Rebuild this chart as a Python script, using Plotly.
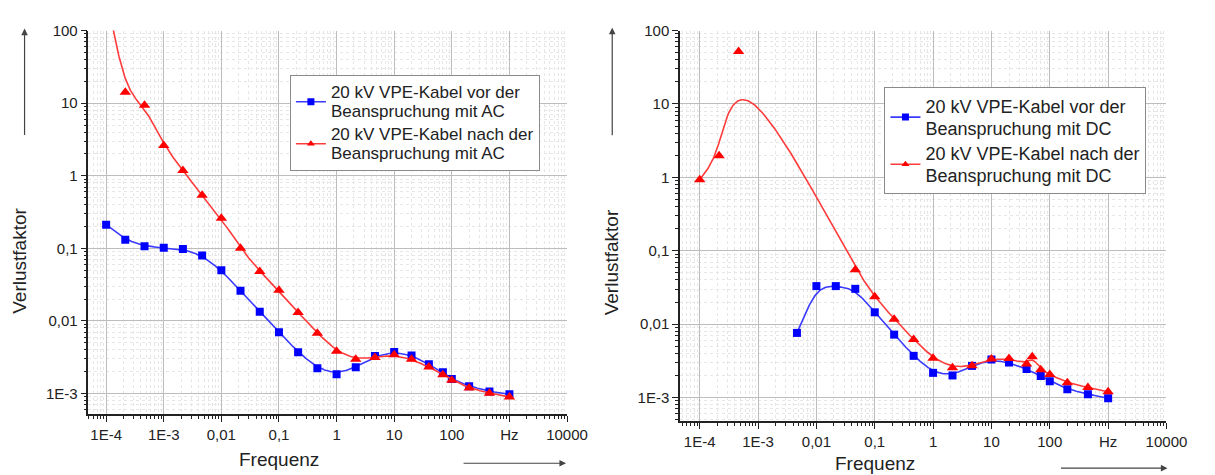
import numpy as np
import plotly.graph_objects as go

# --- Data: loss factor vs. frequency, 20 kV XLPE cable ---
# AC stress (left panel)
f_ac_vor = [1e-4, 2.15e-4, 4.64e-4, 1e-3, 2.15e-3, 4.64e-3, 0.01, 0.0215, 0.0464, 0.1,
            0.215, 0.464, 1, 2.15, 4.64, 10, 20, 40, 70, 100, 200, 450, 1000]
tan_ac_vor = [0.212, 0.131, 0.107, 0.102, 0.098, 0.080, 0.050, 0.026, 0.0134, 0.0070,
              0.00371, 0.00224, 0.00184, 0.00231, 0.00328, 0.00375, 0.00335, 0.00254,
              0.00196, 0.00159, 0.00126, 0.00107, 0.00098]
f_ac_nach = [1e-4, 2.15e-4, 4.64e-4, 1e-3, 2.15e-3, 4.64e-3, 0.01, 0.0215, 0.0464, 0.1,
             0.215, 0.464, 1, 2.15, 4.64, 10, 20, 40, 70, 100, 200, 450, 1000]
tan_ac_nach = [300, 14.1, 9.4, 2.62, 1.18, 0.54, 0.26, 0.100, 0.048, 0.0264,
               0.0131, 0.00676, 0.00383, 0.00296, 0.00315, 0.00342, 0.00296, 0.00233,
               0.00182, 0.00153, 0.00119, 0.00101, 0.00090]

# DC stress (right panel)
f_dc_vor = [4.64e-3, 0.01, 0.0215, 0.0464, 0.1, 0.215, 0.464, 1, 2.15, 4.64, 10, 20,
            40, 70, 100, 200, 450, 1000]
tan_dc_vor = [0.0076, 0.033, 0.033, 0.0303, 0.0145, 0.0072, 0.0037, 0.00217, 0.0020,
              0.0027, 0.0033, 0.0030, 0.00245, 0.00197, 0.00167, 0.0013, 0.00111, 0.00098]
f_dc_nach = [1e-4, 2.15e-4, 4.64e-4, 0.0464, 0.1, 0.215, 0.464, 1, 2.15, 4.64, 10, 20,
             40, 50, 70, 100, 200, 450, 1000]
tan_dc_nach = [0.93, 1.97, 52, 0.055, 0.0237, 0.0117, 0.0062, 0.00344, 0.00255, 0.00271,
               0.00334, 0.0034, 0.00286, 0.00359, 0.0024, 0.00206, 0.00159, 0.00137, 0.0012]

x_tickvals = [1e-4, 1e-3, 1e-2, 1e-1, 1, 10, 100, 1000, 10000]
x_ticktext = ["1E-4", "1E-3", "0,01", "0,1", "1", "10", "100", "Hz", "10000"]
y_tickvals = [1e-3, 1e-2, 1e-1, 1, 10, 100]
y_ticktext = ["1E-3", "0,01", "0,1", "1", "10", "100"]

names_ac = ["20 kV VPE-Kabel vor der<br>Beanspruchung mit AC",
            "20 kV VPE-Kabel nach der<br>Beanspruchung mit AC"]
names_dc = ["20 kV VPE-Kabel vor der<br>Beanspruchung mit DC",
            "20 kV VPE-Kabel nach der<br>Beanspruchung mit DC"]

BLUE_M, BLUE_L = "#0000ff", "#3a3aff"
RED_M, RED_L = "#ff0000", "#ff3b3b"
FONT = "Arial, Liberation Sans, sans-serif"


def bspline(x, y, n=40):
    """Uniform cubic B-spline through log-log control points (ends pinned)."""
    P = np.column_stack([np.log10(x), np.log10(y)])
    P = np.vstack([2 * P[0] - P[1], P, 2 * P[-1] - P[-2]])
    t = np.linspace(0, 1, n, endpoint=False)[:, None]
    b0 = (1 - t) ** 3 / 6
    b1 = (3 * t ** 3 - 6 * t ** 2 + 4) / 6
    b2 = (-3 * t ** 3 + 3 * t ** 2 + 3 * t + 1) / 6
    b3 = t ** 3 / 6
    pts = [b0 * P[i] + b1 * P[i + 1] + b2 * P[i + 2] + b3 * P[i + 3]
           for i in range(len(P) - 3)]
    pts.append(P[-2][None, :])
    c = np.vstack(pts)
    return 10 ** c[:, 0], 10 ** c[:, 1]


def legend_label(text, px):
    lines = text.split("<br>")
    return "<br>".join(f'<span style="font-size:{px}px">{s}</span>' for s in lines)


fig = go.Figure()


def add_series(f, v, name, xa, ya, leg, lcol, mcol, symbol, msize):
    cx, cy = bspline(f, v)
    fig.add_trace(go.Scatter(x=cx, y=cy, mode="lines", xaxis=xa, yaxis=ya,
                             line=dict(color=lcol, width=1.6), showlegend=False,
                             hoverinfo="skip"))
    fig.add_trace(go.Scatter(x=f, y=v, mode="markers", xaxis=xa, yaxis=ya,
                             marker=dict(color=mcol, symbol=symbol, size=msize),
                             showlegend=False, cliponaxis=True))
    # legend entry: line with marker
    fig.add_trace(go.Scatter(x=[None], y=[None], mode="lines+markers", name=name,
                             xaxis=xa, yaxis=ya, legend=leg,
                             line=dict(color=lcol, width=1.6),
                             marker=dict(color=mcol, symbol=symbol, size=7)))


add_series(f_ac_vor, tan_ac_vor, legend_label(names_ac[0], 17), "x", "y", "legend",
           BLUE_L, BLUE_M, "square", 8)
add_series(f_ac_nach, tan_ac_nach, legend_label(names_ac[1], 17), "x", "y", "legend",
           RED_L, RED_M, "triangle-up", 10)
add_series(f_dc_vor, tan_dc_vor, legend_label(names_dc[0], 18), "x2", "y2", "legend2",
           BLUE_L, BLUE_M, "square", 8)
add_series(f_dc_nach, tan_dc_nach, legend_label(names_dc[1], 18), "x2", "y2", "legend2",
           RED_L, RED_M, "triangle-up", 10)

minor_vals = [m * 10.0 ** e for e in range(-5, 5) for m in range(2, 10)]

axis_common = dict(
    type="log", showline=True, linecolor="#222", linewidth=1.5, mirror=False,
    ticks="outside", ticklen=6, tickwidth=1.2, tickcolor="#222",
    showgrid=True, gridcolor="#bdbdbd", gridwidth=1, zeroline=False,
    tickfont=dict(family=FONT, size=15, color="#222"),
    minor=dict(tickmode="array", tickvals=minor_vals, ticks="outside", ticklen=3,
               tickwidth=1, tickcolor="#222", showgrid=True, gridcolor="#e6e6e6",
               griddash="dot", gridwidth=1),
)

W, H = 1215, 475
fig.update_layout(
    width=W, height=H, autosize=False,
    margin=dict(l=0, r=0, t=0, b=0),
    paper_bgcolor="white", plot_bgcolor="white",
    font=dict(family=FONT, color="#222"),
    xaxis=dict(axis_common, domain=[90 / W, 577 / W], range=[-4.307, 4],
               tickmode="array", tickvals=x_tickvals, ticktext=x_ticktext, anchor="y"),
    yaxis=dict(axis_common, domain=[1 - 413 / H, 1 - 22 / H], range=[-3.284, 2],
               tickmode="array", tickvals=y_tickvals, ticktext=y_ticktext, anchor="x"),
    xaxis2=dict(axis_common, domain=[692 / W, 1187 / W], range=[-4.337, 4],
                tickmode="array", tickvals=x_tickvals, ticktext=x_ticktext, anchor="y2"),
    yaxis2=dict(axis_common, domain=[1 - 420 / H, 1 - 22 / H], range=[-3.32, 2],
                tickmode="array", tickvals=y_tickvals, ticktext=y_ticktext, anchor="x2"),
    legend=dict(x=295 / W, y=1 - 67 / H, xanchor="left", yanchor="top",
                bgcolor="white", bordercolor="#8a8a8a", borderwidth=1,
                font=dict(family=FONT, size=15, color="#222"), itemwidth=30,
                tracegroupgap=0),
    legend2=dict(x=900 / W, y=1 - 80 / H, xanchor="left", yanchor="top",
                 bgcolor="white", bordercolor="#8a8a8a", borderwidth=1,
                 font=dict(family=FONT, size=17, color="#222"), itemwidth=30,
                 tracegroupgap=0),
)

# axis titles
ann = []
for x, y in [(19, 257), (622, 258)]:
    ann.append(dict(text="Verlustfaktor", x=x / W, y=1 - y / H, xref="paper", yref="paper",
                    xanchor="center", yanchor="middle", showarrow=False, textangle=-90,
                    font=dict(family=FONT, size=19, color="#222")))
for x, y in [(284, 459), (890, 463)]:
    ann.append(dict(text="Frequenz", x=x / W, y=1 - y / H, xref="paper", yref="paper",
                    xanchor="center", yanchor="middle", showarrow=False,
                    font=dict(family=FONT, size=19, color="#222")))
# direction arrows next to the axis titles
for x, y0, y1 in [(25, 128, 20), (623, 128, 19)]:
    ann.append(dict(text="", x=x / W, y=1 - y1 / H, xref="paper", yref="paper",
                    ax=0, ay=y0 - y1, axref="pixel", ayref="pixel", showarrow=True,
                    arrowhead=2, arrowsize=1.1, arrowwidth=1.2, arrowcolor="#444"))
for x0, x1, y in [(472, 576, 463), (1080, 1188, 468)]:
    ann.append(dict(text="", x=x1 / W, y=1 - y / H, xref="paper", yref="paper",
                    ax=x0 - x1, ay=0, axref="pixel", ayref="pixel", showarrow=True,
                    arrowhead=2, arrowsize=1.1, arrowwidth=1.2, arrowcolor="#444"))
fig.update_layout(annotations=ann)

fig.write_html("out.html")
